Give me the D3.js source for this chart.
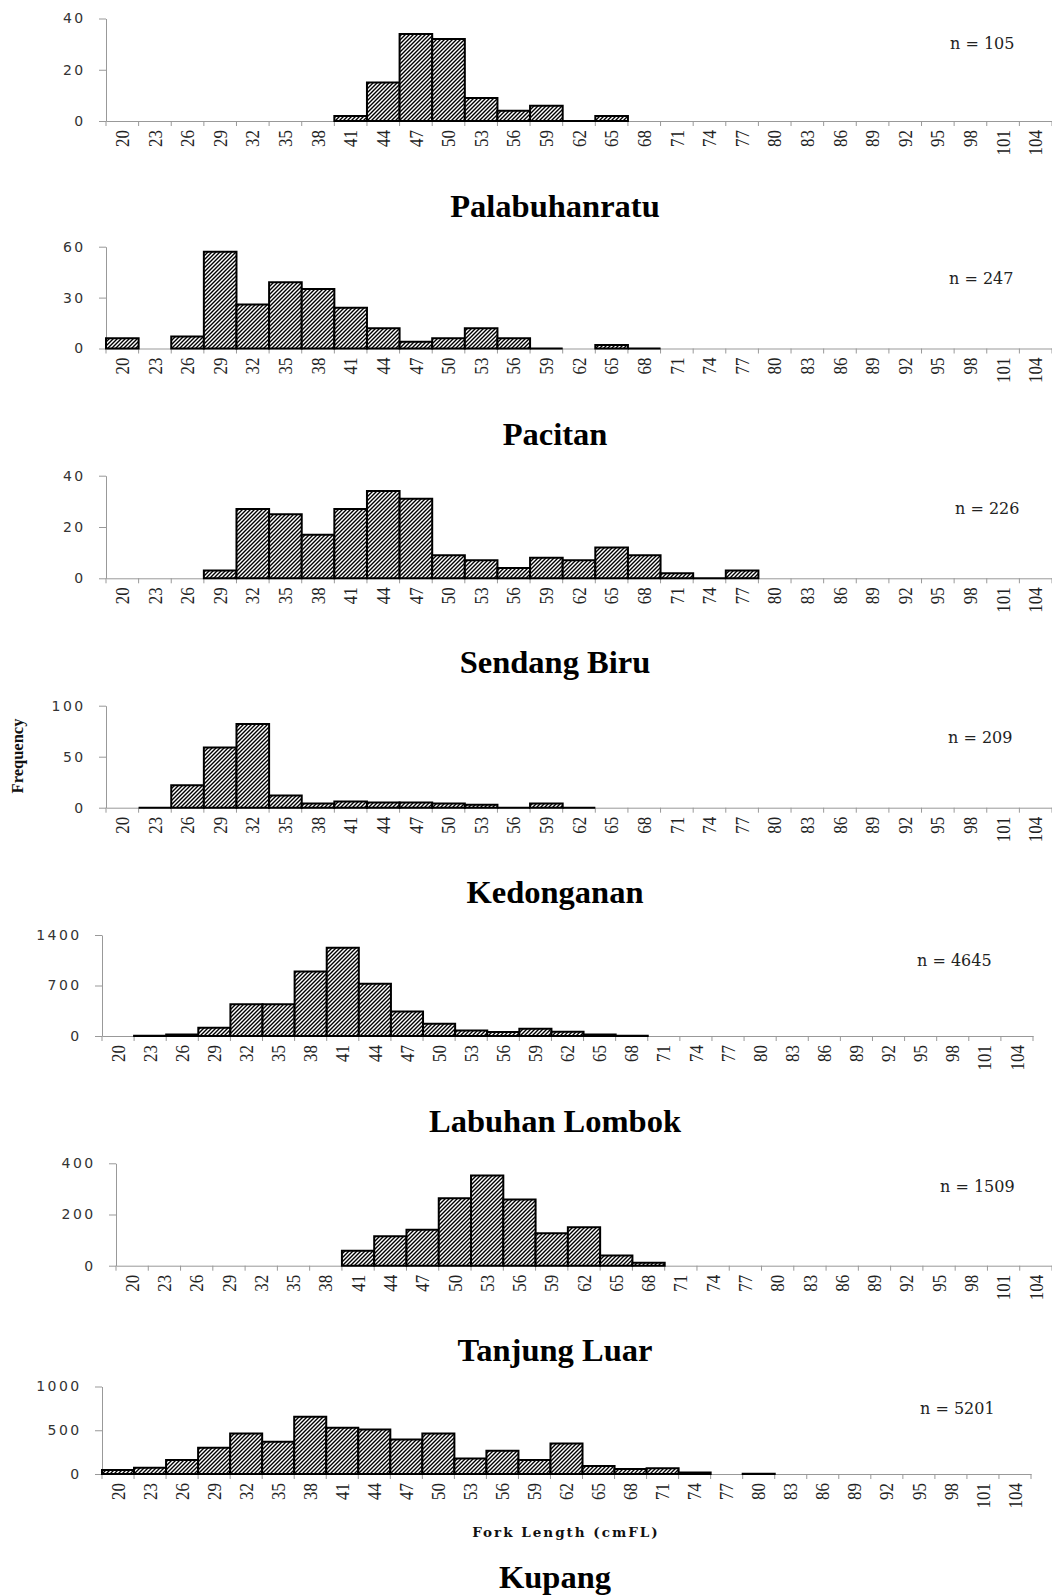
<!DOCTYPE html>
<html>
<head>
<meta charset="utf-8">
<title>Fork length frequency by landing site</title>
<style>
  body { margin: 0; background: #fff; }
  svg { display: block; }
  .ylab { font-family: 'DejaVu Sans', sans-serif; font-size: 14px; letter-spacing: 2.4px; fill: #333; }
  .xlab { font-family: 'Liberation Serif', serif; font-size: 17px; fill: #222; }
  .site { font-family: 'Liberation Serif', serif; font-weight: bold; font-size: 32.5px; fill: #000; }
  .nlab { font-family: 'DejaVu Serif', serif; font-size: 16px; fill: #222; }
</style>
</head>
<body>
<div id="chart"></div>
<script src="https://d3js.org/d3.v7.min.js"></script>
<script>
// length classes (cm FL)
const lengthClasses = ['20','23','26','29','32','35','38','41','44','47','50','53','56','59','62','65','68','71','74','77','80','83','86','89','92','95','98','101','104']

// frequencies per class, null = no bar drawn
const palabuhanratu = [null,null,null,null,null,null,null,2,15,34,32,9,4,6,0,2,null,null,null,null,null,null,null,null,null,null,null,null,null]
const pacitan       = [6,null,7,57,26,39,35,24,12,4,6,12,6,0,null,2,0,null,null,null,null,null,null,null,null,null,null,null,null]
const sendangBiru   = [null,null,null,3,27,25,17,27,34,31,9,7,4,8,7,12,9,2,0,3,null,null,null,null,null,null,null,null,null]
const kedonganan    = [null,0,22,59,82,12,4,6,5,5,4,3,0,4,0,null,null,null,null,null,null,null,null,null,null,null,null,null,null]
const labuhanLombok = [null,5,20,115,440,440,895,1225,725,340,170,75,55,100,60,20,5,null,null,null,null,null,null,null,null,null,null,null,null]
const tanjungLuar   = [null,null,null,null,null,null,null,58,115,140,263,352,259,127,150,40,12,null,null,null,null,null,null,null,null,null,null,null,null]
const kupang        = [45,72,160,300,464,369,654,528,510,395,462,178,266,160,350,91,57,65,18,null,3,null,null,null,null,null,null,null,null]

const siteNames = ['Palabuhanratu','Pacitan','Sendang Biru','Kedonganan','Labuhan Lombok','Tanjung Luar','Kupang']
const sampleSizes = [105, 247, 226, 209, 4645, 1509, 5201]
const yTicks = [[0,20,40],[0,30,60],[0,20,40],[0,50,100],[0,700,1400],[0,200,400],[0,500,1000]]
const series = [palabuhanratu, pacitan, sendangBiru, kedonganan, labuhanLombok, tanjungLuar, kupang]

// panel geometry: plot box, n label and title placement
const panels = [
    {x0:106, x1:1052, top:18.5,   base:121,    nx:950, ny:49,   ty:216.7},
    {x0:106, x1:1052, top:246.7,  base:348.5,  nx:949, ny:284,  ty:445},
    {x0:106, x1:1052, top:475.7,  base:578.3,  nx:955, ny:514,  ty:673},
    {x0:106, x1:1052, top:705.7,  base:807.7,  nx:948, ny:743,  ty:903},
    {x0:102, x1:1033, top:935,    base:1036,   nx:917, ny:966,  ty:1131.7},
    {x0:116, x1:1052, top:1163.3, base:1265.7, nx:940, ny:1192, ty:1360.7},
    {x0:102, x1:1031, top:1386.5, base:1474,   nx:920, ny:1414, ty:1588}
]

const svg = d3.select('#chart').append('svg')
    .attr('width', 1052)
    .attr('height', 1596)

svg.append('rect').attr('width', 1052).attr('height', 1596).attr('fill', '#fff')

// dark upward diagonal hatch
const pat = svg.append('defs').append('pattern')
    .attr('id', 'hatch')
    .attr('patternUnits', 'userSpaceOnUse')
    .attr('width', 4)
    .attr('height', 4)
pat.append('rect').attr('width', 4).attr('height', 4).attr('fill', '#fff')
pat.append('path')
    .attr('d', 'M-1,1 L1,-1 M0,4 L4,0 M3,5 L5,3')
    .attr('stroke', '#000')
    .attr('stroke-width', 1.4)

panels.forEach((p, i) => {
    const g = svg.append('g')

    const x = d3.scaleBand()
        .domain(lengthClasses)
        .range([p.x0, p.x1])
        .padding(0)

    const ticks = yTicks[i]
    const y = d3.scaleLinear()
        .domain([0, ticks[ticks.length - 1]])
        .range([p.base, p.top])

    // y axis
    const yAxis = g.append('g')
        .attr('transform', `translate(${p.x0},0)`)
        .call(d3.axisLeft(y).tickValues(ticks).tickFormat(d3.format('d')).tickSize(7).tickSizeOuter(0))
    yAxis.select('.domain').attr('stroke', '#999')
    yAxis.selectAll('.tick line').attr('stroke', '#999')
    yAxis.selectAll('.tick text')
        .attr('class', 'ylab')
        .attr('font-family', null).attr('font-size', null)
        .attr('x', -20.5)

    // x axis baseline and labels at band centres
    const xAxis = g.append('g')
        .attr('transform', `translate(0,${p.base})`)
        .call(d3.axisBottom(x).tickSize(0).tickSizeOuter(0))
    xAxis.select('.domain').attr('stroke', '#999')
    xAxis.selectAll('.tick text')
        .attr('class', 'xlab')
        .attr('font-family', null).attr('font-size', null)
        .attr('transform', 'rotate(-90) scale(1,1.15)')
        .attr('x', -9)
        .attr('y', 0)
        .attr('dy', '0.34em')
        .style('text-anchor', 'end')

    // tick marks on class boundaries
    const edges = lengthClasses.map(c => x(c)).concat([x(lengthClasses[lengthClasses.length - 1]) + x.bandwidth()])
    g.append('g')
        .selectAll('line')
        .data(edges)
        .join('line')
        .attr('x1', d => d).attr('x2', d => d)
        .attr('y1', p.base).attr('y2', p.base + 5)
        .attr('stroke', '#999')

    // bars
    const rows = lengthClasses.map((c, j) => ({c: c, v: series[i][j]})).filter(d => d.v !== null)
    g.append('g')
        .selectAll('path')
        .data(rows)
        .join('path')
        .attr('d', d => {
            const a = x(d.c), b = a + x.bandwidth()
            return `M${a},${y(0)}V${y(d.v)}H${b}V${y(0)}Z`
        })
        .attr('fill', 'url(#hatch)')
        .attr('stroke', '#000')
        .attr('stroke-width', 2)
        .attr('stroke-linejoin', 'miter')

    // sample size
    g.append('text')
        .attr('class', 'nlab')
        .attr('x', p.nx)
        .attr('y', p.ny)
        .text('n = ' + sampleSizes[i])

    // site title
    g.append('text')
        .attr('class', 'site')
        .attr('x', 555)
        .attr('y', p.ty)
        .attr('text-anchor', 'middle')
        .text(siteNames[i])
})

// shared axis titles
svg.append('text')
    .attr('transform', 'translate(23,756) rotate(-90)')
    .attr('text-anchor', 'middle')
    .attr('font-family', 'Liberation Serif, serif')
    .attr('font-weight', 'bold')
    .attr('font-size', 16.5)
    .attr('fill', '#111')
    .text('Frequency')

svg.append('text')
    .attr('x', 566)
    .attr('y', 1537)
    .attr('text-anchor', 'middle')
    .attr('font-family', 'DejaVu Serif, serif')
    .attr('font-weight', 'bold')
    .attr('font-size', 13.5)
    .attr('letter-spacing', 2)
    .attr('fill', '#111')
    .text('Fork Length (cmFL)')
</script>
</body>
</html>
